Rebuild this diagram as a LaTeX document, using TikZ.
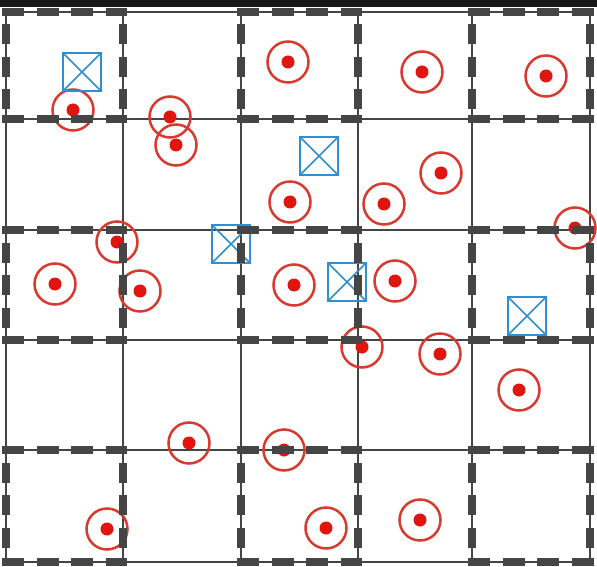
\documentclass[tikz,border=0pt]{standalone}
\usetikzlibrary{calc}
\definecolor{gridgray}{HTML}{454545}
\definecolor{tred}{HTML}{D93A30}
\definecolor{tdot}{HTML}{E0150F}
\definecolor{tblue}{HTML}{2F8FCF}
\tikzset{
  thinline/.style={draw=gridgray, line width=2pt},
  hdash/.style={draw=gridgray, line width=8pt, dash pattern=on 22pt off 12.5pt},
  vdash/.style={draw=gridgray, line width=8pt, dash pattern=on 20pt off 12.5pt, dash phase=20pt},
  target/.style={circle, draw=tred, line width=2.5pt, minimum size=41pt, inner sep=0pt,
    path picture={\fill[tdot] (path picture bounding box.center) circle (6.5);}},
  sensor/.style={rectangle, draw=tblue, line width=2.5pt, minimum size=38pt, inner sep=0pt,
    path picture={\draw[tblue, line width=1.5pt] (path picture bounding box.north west) -- (path picture bounding box.south east)
      (path picture bounding box.north east) -- (path picture bounding box.south west);}}
}
\begin{document}
\begin{tikzpicture}[x=1pt, y=-1pt]
\useasboundingbox (0,0) rectangle (597,567);
\fill[white] (0,0) rectangle (597,567);
\fill[black!90] (0,0) rectangle (597,7);
% thin grid
\foreach \gx in {6,123,241,358,472,590} \draw[thinline] (\gx,12) -- (\gx,562);
\foreach \gy in {12,119,230,340,450,562} \draw[thinline] (6,\gy) -- (590,\gy);
% targets
\foreach \tx/\ty [count=\k] in {288/62,422/72,546/76,73/110,170/117,176/145,290/202,384/204,441/173,575/228,
  117/242,55/284,140/291,294/285,395/281,362/347,440/354,519/390,189/443,284/450,107/529,326/528,420/520}
  \node[target] (t\k) at (\tx,\ty) {};
% sensors
\foreach \sx/\sy [count=\k] in {82/72,319/156,231/244,347/282,527/316}
  \node[sensor] (s\k) at (\sx,\sy) {};
% dashed cells
\foreach \xa/\xb in {6/123,241/358,472/590}
  \foreach \ya/\yb in {12/119,230/340,450/562}{
    \draw[hdash] (\xa-4,\ya) -- (\xb+4,\ya);
    \draw[hdash] (\xa-4,\yb) -- (\xb+4,\yb);
    \draw[vdash] (\xa,\ya) -- (\xa,\yb);
    \draw[vdash] (\xb,\ya) -- (\xb,\yb);
  }
\end{tikzpicture}
\end{document}
